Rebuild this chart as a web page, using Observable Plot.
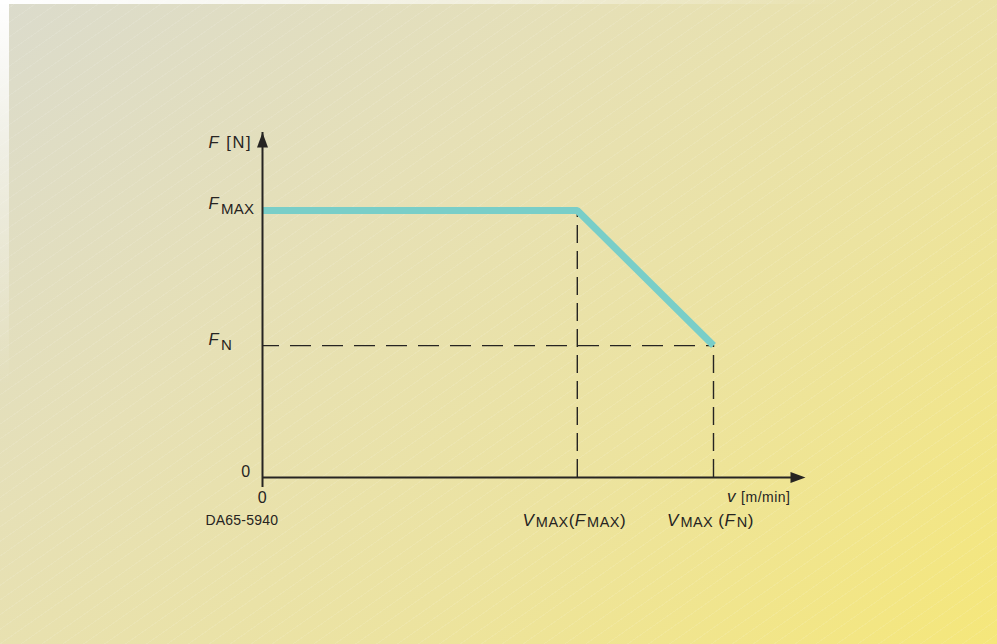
<!DOCTYPE html>
<html>
<head>
<meta charset="utf-8">
<script src="https://cdn.jsdelivr.net/npm/d3@7"></script>
<script src="https://cdn.jsdelivr.net/npm/@observablehq/plot@0.6"></script>
<style>
html, body { margin: 0; padding: 0; background: #ffffff; }
#chart {
  width: 997px; height: 644px; position: relative; overflow: hidden;
  background:
    linear-gradient(to bottom, rgba(255,255,255,1), rgba(255,255,255,0.5) 25%, rgba(255,255,255,0) 60%) 0 0 / 9px 100% no-repeat,
    linear-gradient(to right, rgba(255,255,255,1), rgba(255,255,255,0.6) 40%, rgba(255,255,255,0) 85%) 0 0 / 100% 4px no-repeat,
    repeating-linear-gradient(145deg, rgba(255,255,255,0) 0px, rgba(255,255,255,0) 11px, rgba(255,255,255,0.1) 11px, rgba(255,255,255,0.1) 12px),
    linear-gradient(140deg, #dbdbcc 0%, #e6e0b6 35%, #ece3a0 65%, #f5e77a 100%);
}
</style>
</head>
<body>
<div id="chart"></div>
<script>
// ---- values (abstract units) ----
const F_MAX = 1.0;
const F_N = 0.494;
const V_FMAX = 0.698;
const V_FN = 1.0;
const X_END = 1.204;   // end of the v axis (arrow tip)
const Y_END = 1.292;   // end of the F axis (arrow tip)

// characteristic curve F(v)
const curveV = [0, V_FMAX, V_FN];
const curveF = [F_MAX, F_MAX, F_N];

// tick values and labels
const yTickValues = [0, F_N, F_MAX];
const yTickLabels = ["0", "<i>F</i><sub>N</sub>", "<i>F</i><sub>MAX</sub>"];
const xTickValues = [0, V_FMAX, V_FN];
const xTickLabels = ["0", "<i>V</i><sub>MAX</sub>(<i>F</i><sub>MAX</sub>)", "<i>V</i><sub>MAX</sub> (<i>F</i><sub>N</sub>)"];
const yAxisTitle = "<i>F</i> [N]";
const xAxisTitle = "<i>v</i> <small>[m/min]</small>";
const figureCode = "DA65-5940";

// ---- tables built from the arrays ----
const curve = curveV.map((v, i) => ({v, F: curveF[i]}));
const yTicks = yTickValues.map((value, i) => ({value, label: yTickLabels[i]}));
const xTicks = xTickValues.map((value, i) => ({value, label: xTickLabels[i]}));
const vGuides = [{v: V_FMAX, F: F_MAX}, {v: V_FN, F: F_N}];
const hGuides = [{v: V_FN, F: F_N}];

const INK = "#262422";
const FONT = "'Liberation Sans', Arial, Helvetica, sans-serif";

const plot = Plot.plot({
  width: 997,
  height: 644,
  marginLeft: 262,
  marginRight: 192,
  marginTop: 132,
  marginBottom: 167,
  x: {domain: [0, X_END], axis: null},
  y: {domain: [0, Y_END], axis: null},
  style: {background: "transparent", fontFamily: FONT, color: INK, overflow: "visible"},
  marks: [
    // dashed guide lines
    Plot.ruleX(vGuides, {x: "v", y1: 0, y2: "F", stroke: INK, strokeWidth: 1.4, strokeDasharray: "18,8"}),
    Plot.ruleY(hGuides, {y: "F", x1: 0, x2: "v", stroke: INK, strokeWidth: 1.4, strokeDasharray: "21,11", strokeDashoffset: 4}),
    // the characteristic curve
    Plot.line(curve, {x: "v", y: "F", stroke: "#79cec8", strokeWidth: 7, strokeLinejoin: "miter", strokeLinecap: "butt"}),
    // axes
    Plot.ruleX([0], {y1: 0, y2: Y_END, stroke: INK, strokeWidth: 2, insetTop: 10}),
    Plot.ruleY([0], {x1: 0, x2: X_END, stroke: INK, strokeWidth: 2, insetRight: 10}),
    Plot.vector([{x: 0, y: Y_END, a: 0}, {x: X_END, y: 0, a: 90}], {
      x: "x", y: "y", rotate: "a", length: 15, r: 5.5, shape: "spike", anchor: "end",
      fill: INK, stroke: "none"
    }),
    // y tick labels
    Plot.text(yTicks, {filter: d => d.value !== 0, x: 0, y: "value", text: "label", textAnchor: "start",
      lineAnchor: "bottom", dx: -54, dy: -1, fontSize: 16.5, fill: INK}),
    Plot.text(yTicks, {filter: d => d.value === 0, x: 0, y: "value", text: "label", textAnchor: "end",
      lineAnchor: "bottom", dx: -12, dy: -1, fontSize: 16, fill: INK}),
    // x tick labels
    Plot.text(xTicks, {filter: d => d.value === 0, x: "value", y: 0, text: "label", textAnchor: "middle",
      lineAnchor: "bottom", dy: 25, fontSize: 16, fill: INK}),
    Plot.text(xTicks, {filter: d => d.value !== 0, x: "value", y: 0, text: "label", textAnchor: "middle",
      lineAnchor: "bottom", dx: -3, dy: 48, fontSize: 17, fill: INK}),
    // axis titles
    Plot.text([yAxisTitle], {x: 0, y: Y_END, text: d => d, textAnchor: "start", lineAnchor: "bottom",
      dx: -54, dy: 15, fontSize: 16.5, fill: INK}),
    Plot.text([xAxisTitle], {x: X_END, y: 0, text: d => d, textAnchor: "end", lineAnchor: "bottom",
      dx: -15, dy: 24, fontSize: 17, fill: INK}),
    // figure code
    Plot.text([figureCode], {x: 0, y: 0, text: d => d, textAnchor: "start", lineAnchor: "bottom",
      dx: -57, dy: 47, fontSize: 14, fill: INK})
  ]
});

// turn the small markup (<i>, <sub>, <small>) into real SVG tspans
function richText(textEl, opts) {
  if (opts.letterSpacing != null) textEl.style.letterSpacing = opts.letterSpacing + "px";
  const src = textEl.textContent;
  if (!src.includes("<")) return;
  const el = d3.select(textEl);
  el.text(null);
  const re = /<(\/?)(i|sub|small)>/g;
  let italic = false, sub = false, small = false, last = 0, m, shifted = 0;
  const emit = (str) => {
    if (!str) return;
    const t = el.append("tspan").text(str);
    if (italic) t.style("font-style", "italic");
    let size = null, target = 0;
    if (sub) { size = opts.subSize; target = opts.subShift; if (opts.subGap) t.attr("dx", opts.subGap); }
    else if (small) { size = opts.smallSize; }
    if (size) t.style("font-size", size + "px");
    if (target !== shifted) { t.attr("dy", target - shifted); shifted = target; }
  };
  while ((m = re.exec(src))) {
    emit(src.slice(last, m.index));
    const on = !m[1];
    if (m[2] === "i") italic = on; else if (m[2] === "sub") sub = on; else small = on;
    last = re.lastIndex;
  }
  emit(src.slice(last));
}
const yLabelStyle = {subSize: 15, subShift: 5, subGap: 2, letterSpacing: 0.3};
const xLabelStyle = {subSize: 14.5, subShift: 1, subGap: 1.5, letterSpacing: 0.45};
const styleFor = new Map([
  ...yTickLabels.map(s => [s, yLabelStyle]),
  ...xTickLabels.map(s => [s, xLabelStyle]),
  [yAxisTitle, {letterSpacing: 1.6}],
  [xAxisTitle, {smallSize: 14, letterSpacing: 0.5}],
  [figureCode, {letterSpacing: 0.2}]
]);
plot.querySelectorAll("text").forEach(t => {
  const opts = styleFor.get(t.textContent);
  if (opts) richText(t, opts);
});

document.getElementById("chart").appendChild(plot);
</script>
</body>
</html>
